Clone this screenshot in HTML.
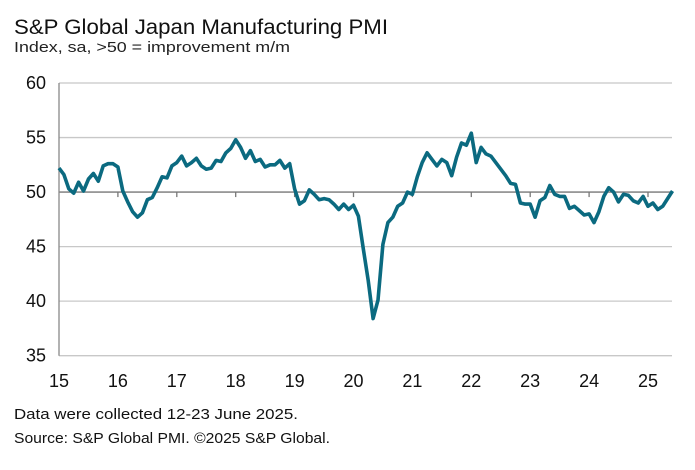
<!DOCTYPE html>
<html><head><meta charset="utf-8"><style>
body{margin:0;background:#fff;font-family:"Liberation Sans",sans-serif;}
svg text{font-family:"Liberation Sans",sans-serif;}
</style></head><body>
<svg width="695" height="465">
<text x="14" y="34" font-size="21" fill="#111" textLength="374" lengthAdjust="spacingAndGlyphs">S&amp;P Global Japan Manufacturing PMI</text>
<text x="14" y="52" font-size="15" fill="#222" textLength="276" lengthAdjust="spacingAndGlyphs">Index, sa, &gt;50 = improvement m/m</text>
<g id="grid"></g><g id="xax"></g>
<path id="line" fill="none" stroke="#0b6a80" stroke-width="3.6" stroke-linejoin="round"/>
<text x="14" y="419" font-size="15" fill="#111" textLength="284" lengthAdjust="spacingAndGlyphs">Data were collected 12-23 June 2025.</text>
<text x="14" y="443" font-size="15" fill="#111" textLength="316" lengthAdjust="spacingAndGlyphs">Source: S&amp;P Global PMI. ©2025 S&amp;P Global.</text>
</svg>
<script>
const yTicks=[35,40,45,50,55,60];
const xLabels=["15","16","17","18","19","20","21","22","23","24","25"];
const pmi=[52.2,51.6,50.3,49.9,50.9,50.1,51.2,51.7,51.0,52.4,52.6,52.6,
52.3,50.1,49.1,48.2,47.7,48.1,49.3,49.5,50.4,51.4,51.3,52.4,
52.7,53.3,52.4,52.7,53.1,52.4,52.1,52.2,52.9,52.8,53.6,54.0,
54.8,54.1,53.1,53.8,52.8,53.0,52.3,52.5,52.5,52.9,52.2,52.6,
50.3,48.9,49.2,50.2,49.8,49.3,49.4,49.3,48.9,48.4,48.9,48.4,
48.8,47.8,44.8,41.9,38.4,40.1,45.2,47.2,47.7,48.7,49.0,50.0,
49.8,51.4,52.7,53.6,53.0,52.4,53.0,52.7,51.5,53.2,54.5,54.3,
55.4,52.7,54.1,53.5,53.3,52.7,52.1,51.5,50.8,50.7,49.0,48.9,
48.9,47.7,49.2,49.5,50.6,49.8,49.6,49.6,48.5,48.7,48.3,47.9,
48.0,47.2,48.2,49.6,50.4,50.0,49.1,49.8,49.7,49.2,49.0,49.6,
48.7,49.0,48.4,48.7,49.4,50.1];
const NS="http://www.w3.org/2000/svg";
const x0=59,yearW=58.9,right=672;
const X=i=>x0+i*yearW/12;
const Y=v=>355.7-(v-35)*(355.7-83)/25;
const grid=document.getElementById('grid');
yTicks.forEach(t=>{
 const l=document.createElementNS(NS,'line');
 
 
 l.setAttribute('x1',x0);l.setAttribute('x2',right);l.setAttribute('y1',Y(t));l.setAttribute('y2',Y(t));
 l.setAttribute('stroke',t===50?'#777':'#c8c8c8');l.setAttribute('stroke-width',1.3);
 grid.appendChild(l);
 const tx=document.createElementNS(NS,'text');
 
 
 tx.setAttribute('x',46);tx.setAttribute('y',Y(t)+6);tx.setAttribute('text-anchor','end');
 tx.setAttribute('font-size','18');tx.setAttribute('fill','#111');tx.textContent=t;
 grid.appendChild(tx);
});
const ax=document.createElementNS(NS,'line');


ax.setAttribute('x1',x0);ax.setAttribute('x2',x0);ax.setAttribute('y1',Y(60));ax.setAttribute('y2',Y(35));
ax.setAttribute('stroke','#888');ax.setAttribute('stroke-width',1.3);grid.appendChild(ax);
const xa=document.getElementById('xax');
xLabels.forEach((s,k)=>{
 const xx=x0+k*yearW;
 if(k>0){const tk=document.createElementNS(NS,'line');
 
 
 tk.setAttribute('x1',xx);tk.setAttribute('x2',xx);tk.setAttribute('y1',Y(50));tk.setAttribute('y2',Y(50)+5);
 tk.setAttribute('stroke','#777');tk.setAttribute('stroke-width',1.3);xa.appendChild(tk);}
 const tx=document.createElementNS(NS,'text');
 
 
 tx.setAttribute('x',xx);tx.setAttribute('y',387);tx.setAttribute('text-anchor','middle');
 tx.setAttribute('font-size','18');tx.setAttribute('fill','#111');tx.textContent=s;
 xa.appendChild(tx);
});
document.getElementById('line').setAttribute('d',pmi.map((v,i)=>(i?'L':'M')+X(i).toFixed(1)+' '+Y(v).toFixed(1)).join(' '));
</script>
</body></html>
